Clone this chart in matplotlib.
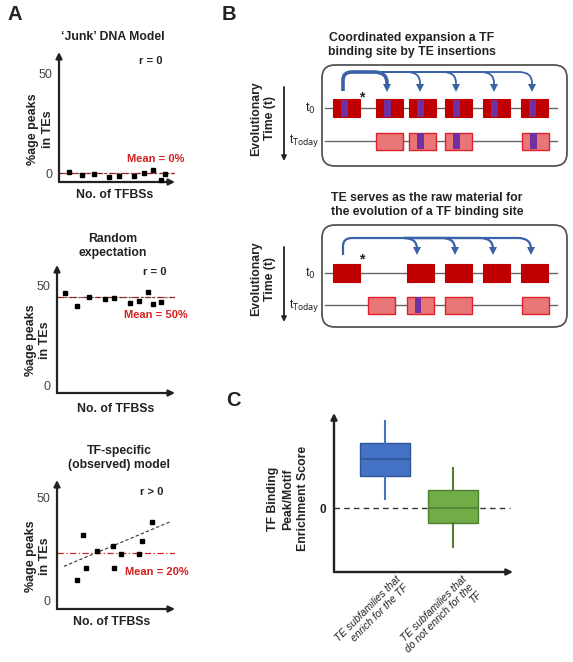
import numpy as np
import matplotlib
matplotlib.use("Agg")
import matplotlib.pyplot as plt
from matplotlib.patches import Rectangle, FancyBboxPatch
from matplotlib.path import Path
from matplotlib.patches import PathPatch

plt.rcParams['font.family'] = ['Liberation Sans', 'DejaVu Sans']

# ---- data: panel A scatter models ----
junk_x = [10, 23, 35, 50, 60, 75, 85, 94, 102, 106]
junk_y = [0.5, -1, -0.5, -2, -1.5, -1.5, 0, 1.5, -3.5, -0.5]
junk_mean = 0
junk_trend_x = [0, 116]
junk_trend_y = [0, 0]

random_x = [8, 20, 32, 48, 57, 73, 82, 91, 96, 104]
random_y = [46, 39.5, 44, 43, 43.5, 41, 42, 46.5, 40.5, 41.5]
random_mean = 44
random_trend_x = [0, 118]
random_trend_y = [44, 44]

tf_x = [20, 26, 29, 40, 56, 57, 64, 82, 85, 95]
tf_y = [10, 32, 15.5, 24, 26.5, 15.5, 22.5, 22.5, 29, 38]
tf_mean = 23
tf_trend_x = [7, 114]
tf_trend_y = [16.5, 38.5]

# ---- data: panel B schematic (TE start positions along the genome) ----
b1_t0_te = [333, 376, 409, 445, 483, 521]
b1_t0_motif = [True, True, True, True, True, True]
b1_today_te = [376, 409, 445, 522]
b1_today_motif = [False, True, True, True]

b2_t0_te = [333, 407, 445, 483, 521]
b2_t0_motif = [False, False, False, False, False]
b2_today_te = [368, 407, 445, 522]
b2_today_motif = [False, True, False, False]

# ---- data: panel C boxplot ----
c_groups = ["TE subfamilies that\nenrich for the TF",
            "TE subfamilies that\ndo not enrich for the\nTF"]
c_q1 = [0.97, -0.45]
c_med = [1.48, 0.0]
c_q3 = [1.97, 0.55]
c_lo = [0.27, -1.18]
c_hi = [2.64, 1.21]

W, H = 573, 662
fig = plt.figure(figsize=(W / 100, H / 100), dpi=100)
DARK = "#222222"


def px_axes(x0, y0, x1, y1):
    return fig.add_axes([x0 / W, 1 - y1 / H, (x1 - x0) / W, (y1 - y0) / H])


def ftxt(x, y, s, **kw):
    kw.setdefault("ha", "center")
    kw.setdefault("va", "center")
    kw.setdefault("color", DARK)
    fig.text(x / W, 1 - y / H, s, **kw)


def arrow_axes(ax, lw=1.6):
    for xy in [(0, 1.0), (1.0, 0)]:
        ax.annotate("", xy=xy, xytext=(0, 0), xycoords="axes fraction",
                    arrowprops=dict(arrowstyle="-|>", lw=lw, color=DARK,
                                    mutation_scale=9, shrinkA=0, shrinkB=0))
    for s in ax.spines.values():
        s.set_visible(False)


def scatter_panel(box, xs, ys, mean, tx, ty, ylim, rtxt, rpos, mtxt, mpos, flat):
    ax = px_axes(*box)
    ax.set_xlim(0, box[2] - box[0])
    ax.set_ylim(*ylim)
    arrow_axes(ax)
    ax.set_xticks([])
    ax.set_yticks([0, 50])
    ax.set_yticklabels(["0", "50"], fontsize=9, color="#444444")
    ax.tick_params(axis="y", length=0, pad=5)
    ax.axhline(mean, color="#D42020", lw=0.9, ls=(0, (5, 2, 1, 2)), zorder=2)
    ax.plot(tx, ty, color="#333333", lw=0.8, ls=(0, (3, 2)), zorder=2,
            alpha=0.7 if flat else 1)
    ax.plot(xs, ys, "s", color="black", ms=3.2, zorder=3, clip_on=False)
    ax.text(rpos[0], rpos[1], rtxt, transform=ax.transAxes, fontsize=8,
            fontweight="bold", ha="center", va="center", color=DARK)
    ax.text(mpos[0], mpos[1], mtxt, transform=ax.transAxes, fontsize=8,
            fontweight="bold", ha="center", va="center", color="#D42020")
    ax.text(-0.16, 0.41, "%age peaks\nin TEs", transform=ax.transAxes, rotation=90,
            fontsize=9, fontweight="bold", ha="center", va="center", color=DARK,
            linespacing=1.25)
    return ax


# ---------------- Panel A ----------------
ftxt(7, 15, "A", fontsize=14.5, fontweight="bold", ha="left")

scatter_panel((59, 52, 175, 182), junk_x, junk_y, junk_mean, junk_trend_x, junk_trend_y,
              (-4.5, 60.5), "r = 0", (0.79, 0.93), "Mean = 0%", (0.83, 0.18), True)
ftxt(113, 37, "\u2018Junk\u2019 DNA Model", fontsize=8.8, fontweight="bold")
ftxt(115, 195, "No. of TFBSs", fontsize=8.8, fontweight="bold")

scatter_panel((57, 265, 175, 393), random_x, random_y, random_mean, random_trend_x,
              random_trend_y, (-4, 60), "r = 0", (0.83, 0.945), "Mean = 50%",
              (0.84, 0.61), True)
ftxt(113, 246, "Random\nexpectation", fontsize=8.8, fontweight="bold", linespacing=1.15)
ftxt(116, 409, "No. of TFBSs", fontsize=8.8, fontweight="bold")

scatter_panel((57, 480, 175, 609), tf_x, tf_y, tf_mean, tf_trend_x, tf_trend_y,
              (-4.4, 58.8), "r > 0", (0.80, 0.91), "Mean = 20%", (0.85, 0.29), False)
ftxt(119, 458, "TF-specific\n(observed) model", fontsize=8.8, fontweight="bold",
     linespacing=1.15)
ftxt(112, 622, "No. of TFBSs", fontsize=8.8, fontweight="bold")

# ---------------- Panel B ----------------
axb = fig.add_axes([0, 0, 1, 1], zorder=5)
axb.set_xlim(0, W)
axb.set_ylim(H, 0)
axb.axis("off")
axb.patch.set_alpha(0)

ftxt(222, 15, "B", fontsize=14.5, fontweight="bold", ha="left")

BLUE = "#3A62A8"
RED = "#C00000"
PINK = "#E97676"
PINK_EDGE = "#E0202A"
PURPLE = "#7030A0"


def te_row(starts, motifs, y, today, stripe_off, stripe_w):
    h = 17 if today else 18
    for x, m in zip(starts, motifs):
        if today:
            axb.add_patch(Rectangle((x, y - h / 2), 27, h, facecolor=PINK,
                                    edgecolor=PINK_EDGE, lw=1, zorder=3))
        else:
            axb.add_patch(Rectangle((x, y - h / 2), 27, h, facecolor=RED,
                                    edgecolor=RED, lw=0.8, zorder=3))
        if m:
            axb.add_patch(Rectangle((x + stripe_off, y - h / 2 + 0.5), stripe_w, h - 1,
                                    facecolor=PURPLE, edgecolor="none", zorder=4))


def arc_arrows(src_x, src_y, top_y, targets, head_y, lw_first, lw_rest):
    def branch(t):
        return [(t - 13, top_y), (t, top_y), (t, top_y + 11), (t, head_y - 2)]
    # first (thick) segment from source to first target
    verts = [(src_x, src_y), (src_x, top_y + 8), (src_x, top_y), (src_x + 9, top_y)]
    codes = [Path.MOVETO, Path.LINETO, Path.CURVE3, Path.CURVE3]
    b = branch(targets[0])
    verts += b
    codes += [Path.LINETO, Path.CURVE3, Path.CURVE3, Path.LINETO]
    axb.add_patch(PathPatch(Path(verts, codes), fill=False, edgecolor=BLUE,
                            lw=lw_first, capstyle="butt", zorder=5))
    for t in targets[1:]:
        b = branch(t)
        verts = [(targets[0] - 13, top_y)] + b
        codes = [Path.MOVETO, Path.LINETO, Path.CURVE3, Path.CURVE3, Path.LINETO]
        axb.add_patch(PathPatch(Path(verts, codes), fill=False, edgecolor=BLUE,
                                lw=lw_rest, zorder=5))
    axb.plot(targets, [head_y] * len(targets), "v", color=BLUE, ms=5.5, mew=0, zorder=6)


def diagram(y_title, title, tx, box_y0, box_y1, t0_y, today_y, t0_te, t0_m, today_te,
            today_m, stripe, targets, src_y, top_y, head_y, lw_first, lw_rest, star_y):
    ftxt(tx, y_title, title, fontsize=8.8, fontweight="bold", linespacing=1.15)
    axb.add_patch(FancyBboxPatch((322, box_y0), 245, box_y1 - box_y0,
                                 boxstyle="round,pad=0,rounding_size=13",
                                 facecolor="white", edgecolor="#555555", lw=1.3, zorder=1))
    axb.plot([325, 557], [t0_y, t0_y], color="#666666", lw=1, zorder=2)
    axb.plot([325, 557], [today_y, today_y], color="#666666", lw=1, zorder=2)
    te_row(t0_te, t0_m, t0_y, False, stripe[0], stripe[1])
    te_row(today_te, today_m, today_y, True, stripe[0], stripe[1])
    arc_arrows(t0_te[0] + 10, src_y, top_y, targets, head_y, lw_first, lw_rest)
    axb.text(t0_te[0] + 29, star_y, "*", fontsize=10, fontweight="bold",
             ha="center", va="center", color=DARK)
    mid = (box_y0 + box_y1) / 2
    axb.text(263, mid + 3, "Evolutionary\nTime (t)", rotation=90, fontsize=8.8,
             fontweight="bold", ha="center", va="center", color=DARK, linespacing=1.15)
    axb.annotate("", xy=(284, box_y1 - 5), xytext=(284, box_y0 + 22),
                 arrowprops=dict(arrowstyle="-|>", lw=1.3, color=DARK,
                                 mutation_scale=7, shrinkA=0, shrinkB=0))
    axb.text(316, t0_y, r"t$_0$", fontsize=9, ha="right", va="center", color=DARK)
    axb.text(319, today_y, r"t$_{\mathrm{Today}}$", fontsize=8.5, ha="right",
             va="center", color=DARK)


diagram(45, "Coordinated expansion a TF\nbinding site by TE insertions", 412, 65, 166,
        108, 141, b1_t0_te, b1_t0_motif, b1_today_te, b1_today_motif, (8, 7),
        [x + 11 for x in b1_t0_te[1:]], 91, 72, 88, 2.6, 1.3, 97)
diagram(205, "TE serves as the raw material for\nthe evolution of a TF binding site", 427,
        225, 327, 273, 305, b2_t0_te, b2_t0_motif, b2_today_te, b2_today_motif, (8, 6),
        [x + 10 for x in b2_t0_te[1:]], 255, 238, 251, 1.6, 1.6, 259)

# ---------------- Panel C ----------------
ftxt(226, 400, "C", fontsize=14.5, fontweight="bold", ha="left")
axc = px_axes(334, 413, 513, 572)
axc.set_xlim(0.25, 2.88)
axc.set_ylim(-1.94, 2.88)
arrow_axes(axc, lw=1.7)
axc.axhline(0, xmax=(2.84 - 0.25) / 2.63, color="#333333", lw=1, ls=(0, (4, 3)), zorder=1)

stats = []
for g, q1, m, q3, lo, hi in zip(c_groups, c_q1, c_med, c_q3, c_lo, c_hi):
    stats.append(dict(label=g, q1=q1, med=m, q3=q3, whislo=lo, whishi=hi, fliers=[]))
fills = ["#4472C4", "#70AD47"]
edges = ["#2F5597", "#507E32"]
bp = axc.bxp(stats, positions=[1, 2], widths=0.735, patch_artist=True,
             showcaps=False, showfliers=False)
for i in range(2):
    bp["boxes"][i].set(facecolor=fills[i], edgecolor=edges[i], lw=1, zorder=2)
    bp["medians"][i].set(color=edges[i], lw=1.2, zorder=3)
    for w in bp["whiskers"][2 * i:2 * i + 2]:
        w.set(color=fills[i] if i == 0 else edges[i], lw=1.5, zorder=2)
axc.set_xticks([])
axc.set_yticks([0])
axc.set_yticklabels(["0"], fontsize=8.5, fontweight="bold", color=DARK)
axc.tick_params(axis="y", length=0, pad=6)
axc.text(-0.257, 0.46, "TF Binding\nPeak/Motif\nEnrichment Score", transform=axc.transAxes,
         rotation=90, fontsize=8.8, fontweight="bold", ha="center", va="center",
         color=DARK, linespacing=1.3)
label_x = [1.15, 2.12]
for lx, g in zip(label_x, c_groups):
    axc.text(lx, -0.015, g, transform=axc.get_xaxis_transform(), rotation=45,
             rotation_mode="anchor", ha="right", va="top", fontsize=7.5,
             style="italic", color=DARK, linespacing=1.1)

fig.savefig("out.png", dpi=100)
